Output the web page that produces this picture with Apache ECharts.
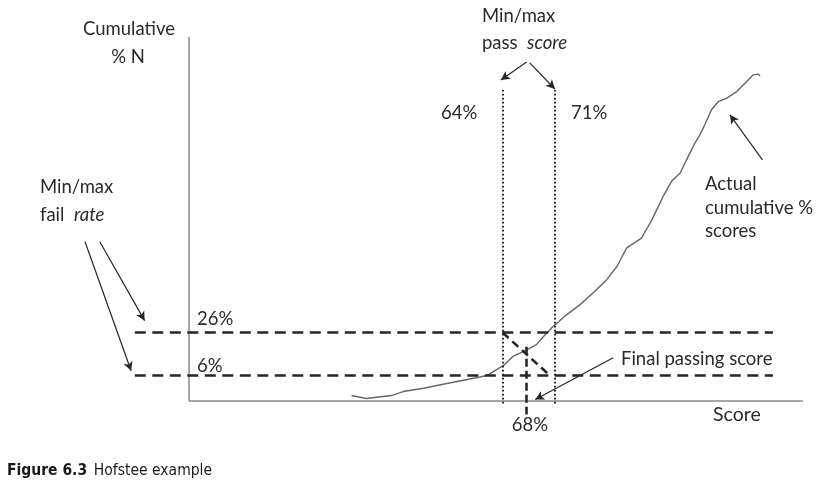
<!DOCTYPE html>
<html>
<head>
<meta charset="utf-8">
<script src="https://cdn.jsdelivr.net/npm/echarts@6/dist/echarts.min.js"></script>
<style>
  html, body { margin: 0; padding: 0; background: #fff; }
  #main { width: 827px; height: 486px; }
</style>
</head>
<body>
<div id="main"></div>
<script>
// schematic axes: both run in arbitrary units (x 0-100 score, y 0-100 cumulative)
var scoreX = [26.5, 28.9, 33.0, 34.9, 38.2, 41.4, 44.7, 47.4, 48.5, 50.1, 51.2, 52.8, 54.7, 56.6, 58.0,
    59.3, 61.5, 63.7, 65.8, 68.0, 69.7, 71.3, 73.7, 75.4, 77.2, 78.6, 80.0, 81.3, 82.4, 83.2,
    84.0, 85.1, 86.2, 87.6, 89.2, 90.8, 91.9, 92.7, 93.0];
var cumPct = [1.4, 0.6, 1.4, 2.5, 3.4, 4.5, 5.6, 6.5, 6.9, 8.5, 9.6, 12.2, 13.7, 15.4, 18.1,
    20.4, 23.6, 26.4, 29.6, 33.2, 36.9, 42.0, 44.7, 49.7, 56.1, 60.3, 62.6, 67.1, 70.8, 73.1,
    75.8, 80.0, 82.2, 83.2, 85.0, 87.7, 89.6, 89.8, 89.3];

var failRates = [18.7, 6.9];          // max / min fail rate (drawn height)
var failLabels = ['26%', '6%'];
var passScores = [51.1, 59.6];        // min / max pass score
var passLabels = ['64%', '71%'];
var finalScore = 54.9;
var finalLabel = '68%';

var lineStart = -8.8, lineEnd = 95.1;

var curve = scoreX.map(function (x, i) { return [x, cumPct[i]]; });

var dark = '#262626';
var textColor = '#2a2a2a';
var font = 'Lato, "Open Sans", sans-serif';
var fs = 18.5;

function seg(a, b) { return [{ coord: a }, { coord: b }]; }

var failLines = failRates.map(function (v) { return seg([lineStart, v], [lineEnd, v]); });
var passLines = passScores.map(function (s) { return seg([s, -0.8], [s, 85.4]); });

var arrows = [
    seg([-16.9, 43.7], [-9.4, 8.2]),
    seg([-14.5, 43.7], [-7.2, 22.0]),
    seg([55.0, 93.1], [50.8, 88.2]),
    seg([55.5, 92.9], [59.6, 85.7]),
    seg([93.4, 66.2], [88.1, 78.6]),
    seg([69.1, 11.8], [56.4, 0.3])
];

function mark(data, style, symbol) {
    return {
        type: 'line',
        data: [],
        silent: true,
        markLine: {
            silent: true,
            symbol: symbol || ['none', 'none'],
            symbolSize: [7, 9],
            label: { show: false },
            emphasis: { disabled: true },
            lineStyle: style,
            data: data
        }
    };
}

function txt(x, y, text, opt) {
    opt = opt || {};
    return {
        type: 'text',
        x: x,
        y: y,
        style: {
            text: text,
            fontFamily: opt.family || font,
            fontSize: opt.size || fs,
            fill: textColor,
            align: opt.align || 'left',
            verticalAlign: 'middle',
            rich: opt.rich
        }
    };
}

var italic = { i: { fontStyle: 'italic', fontFamily: font, fontSize: fs, fill: textColor } };
var capFont = '"Liberation Sans Narrow", "DejaVu Sans Condensed", sans-serif';

var option = {
    animation: false,
    grid: { left: 66, right: 24, top: 37, bottom: 49 },
    xAxis: {
        type: 'value', min: -20, max: 100,
        axisLine: { show: false }, axisTick: { show: false },
        axisLabel: { show: false }, splitLine: { show: false }
    },
    yAxis: {
        type: 'value', min: -10, max: 100,
        axisLine: { show: false }, axisTick: { show: false },
        axisLabel: { show: false }, splitLine: { show: false }
    },
    series: [
        mark([seg([0, 0], [0, 100]), seg([0, 0], [100, 0])],
            { color: '#8a8a8a', width: 1.5, type: 'solid' }),
        mark(failLines, { color: dark, width: 2.6, type: [11, 6.5] }),
        mark(passLines, { color: '#111', width: 1.8, type: [1.8, 2.2] }),
        mark([seg([passScores[0], failRates[0]], [58.8, failRates[1]])],
            { color: dark, width: 2.6, type: [8, 5] }),
        mark([seg([finalScore, 14.8], [finalScore, -3.8])],
            { color: dark, width: 2.6, type: [8, 4] }),
        mark(arrows, { color: dark, width: 1.2, type: 'solid' }, ['none', 'arrow']),
        {
            type: 'line',
            data: curve,
            symbol: 'none',
            silent: true,
            lineStyle: { color: '#666', width: 1.4 }
        }
    ],
    graphic: [
        txt(129, 29, 'Cumulative', { align: 'center' }),
        txt(128, 57, '% N', { align: 'center' }),
        txt(40, 187, 'Min/max'),
        txt(40, 215, 'fail  {i|rate}', { rich: italic }),
        txt(482, 16, 'Min/max'),
        txt(482, 43, 'pass  {i|score}', { rich: italic }),
        txt(441, 113, passLabels[0]),
        txt(571, 113, passLabels[1]),
        txt(705, 184, 'Actual'),
        txt(705, 208, 'cumulative %'),
        txt(705, 231, 'scores'),
        txt(197, 319, failLabels[0]),
        txt(197, 366, failLabels[1]),
        txt(530, 425, finalLabel, { align: 'center' }),
        txt(621, 359, 'Final passing score'),
        txt(713, 415, 'Score', { size: 19.5 }),
        {
            type: 'text',
            x: 7,
            y: 471,
            style: {
                text: '{b|Figure 6.3}  {r|Hofstee example}',
                verticalAlign: 'middle',
                rich: {
                    b: { fontFamily: capFont, fontWeight: 'bold', fontSize: 15.5, fill: '#1a1a1a' },
                    r: { fontFamily: capFont, fontSize: 15.5, fill: '#1a1a1a' }
                }
            }
        }
    ]
};

var myChart = echarts.init(document.getElementById('main'));
myChart.setOption(option);

window.addEventListener('resize', function () {
    myChart.resize();
});
</script>
</body>
</html>
